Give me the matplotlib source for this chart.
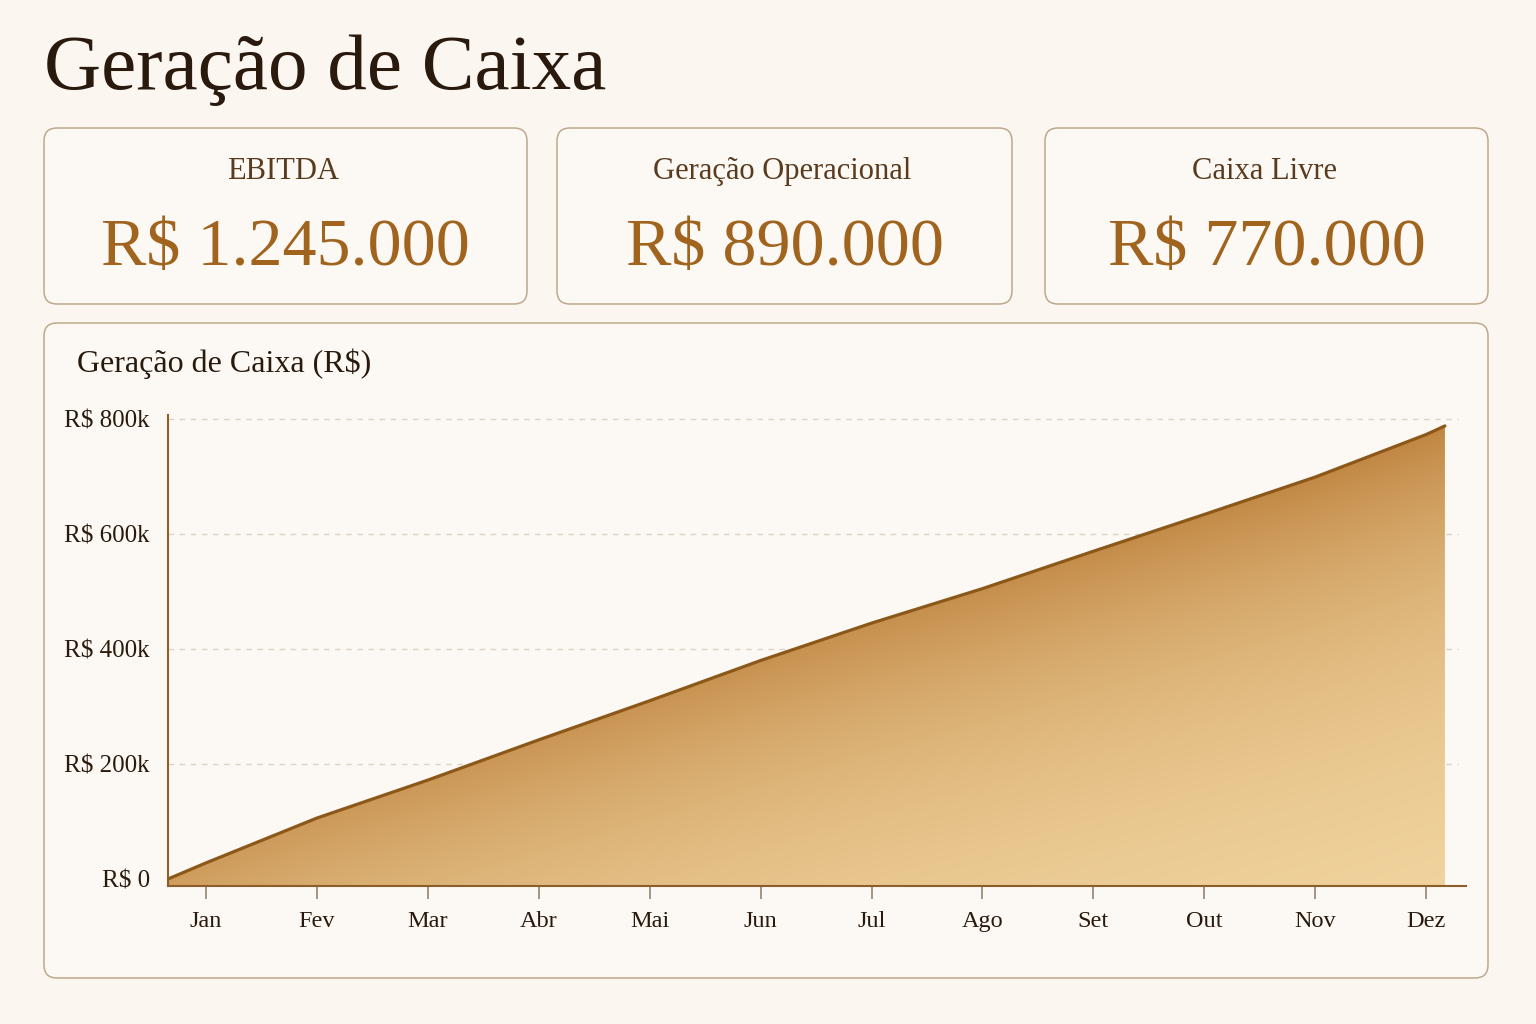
import numpy as np
import matplotlib
matplotlib.use("Agg")
import matplotlib.pyplot as plt
from matplotlib.patches import FancyBboxPatch, Polygon
from matplotlib.colors import to_rgb

# ---------------- data ----------------
months = ["Jan", "Fev", "Mar", "Abr", "Mai", "Jun", "Jul", "Ago", "Set", "Out", "Nov", "Dez"]
cash_generation = [28000, 106000, 172000, 242000, 310000, 380000, 445000, 505000, 570000, 634000, 699000, 773000]
series_start_value = 0
series_end_value = 788000
y_ticks = [0, 200000, 400000, 600000, 800000]
y_tick_labels = ["R$ 0", "R$ 200k", "R$ 400k", "R$ 600k", "R$ 800k"]
kpi_labels = ["EBITDA", "Geração Operacional", "Caixa Livre"]
kpi_values = ["R$ 1.245.000", "R$ 890.000", "R$ 770.000"]
title = "Geração de Caixa"
chart_title = "Geração de Caixa (R$)"

# ---------------- style ----------------
W, H = 1536, 1024
BG = "#fbf7f0"
CARD_BG = "#fcf9f4"
BORDER = "#bfa88a"
DARK = "#2a1a0e"
LABEL = "#5a3b1e"
VALUE = "#a0641f"
LINE = "#8c581a"
SPINE = "#8b5e2a"
GRID = "#ddd3c4"
FILL_DARK = np.array(to_rgb("#c08642"))
FILL_LIGHT = np.array(to_rgb("#f6dca8"))
SERIF = ["Liberation Serif", "DejaVu Serif"]

plt.rcParams["font.family"] = SERIF

fig = plt.figure(figsize=(W / 100, H / 100), dpi=100, facecolor=BG)

# background / layout axes in pixel coordinates
bg = fig.add_axes([0, 0, 1, 1])
bg.set_xlim(0, W)
bg.set_ylim(H, 0)
bg.axis("off")
bg.set_zorder(0)

bg.text(44, 89, title, fontsize=57, color=DARK, ha="left", va="baseline")

cards = [(44, 128, 483, 176), (557, 128, 455, 176), (1045, 128, 443, 176)]
for (x, y, w, h), lab, val in zip(cards, kpi_labels, kpi_values):
    bg.add_patch(FancyBboxPatch((x, y), w, h, boxstyle="round,pad=0,rounding_size=13",
                                facecolor=CARD_BG, edgecolor=BORDER, linewidth=1.1))
    cx = x + w / 2
    bg.text(cx - 2, 179, lab, fontsize=22, color=LABEL, ha="center", va="baseline")
    bg.text(cx, 265, val, fontsize=49, color=VALUE, ha="center", va="baseline")

# chart panel
bg.add_patch(FancyBboxPatch((44, 323), 1444, 655, boxstyle="round,pad=0,rounding_size=13",
                            facecolor=CARD_BG, edgecolor=BORDER, linewidth=1.1))
bg.text(77, 372, chart_title, fontsize=23, color=DARK, ha="left", va="baseline")

# ---------------- chart ----------------
ax_left, ax_right, ax_top, ax_bottom = 168, 1466, 415, 886
ax = fig.add_axes([ax_left / W, 1 - ax_bottom / H, (ax_right - ax_left) / W, (ax_bottom - ax_top) / H])
ax.set_zorder(1)
ax.patch.set_alpha(0)

x_month = np.arange(len(months))
x_lo, x_hi = -0.343, 11.36
x_end = 11.17
y_lo, y_hi = -12200, 807000
ax.set_xlim(x_lo, x_hi)
ax.set_ylim(y_lo, y_hi)

xs = np.concatenate([[x_lo], x_month, [x_end]])
ys = np.concatenate([[series_start_value], cash_generation, [series_end_value]])

# gradient fill clipped to the area under the line (down to the axis)
nx, ny = 600, 400
gx = np.linspace(x_lo, x_end, nx)
gy = np.linspace(y_lo, y_hi, ny)
GX, GY = np.meshgrid(gx, gy)
line_at = np.interp(GX, xs, ys)
dist = np.clip(line_at - GY, 0, None)
s = np.exp(-dist / 420000) * (0.74 + 0.26 * np.clip(GY, 0, None) / 800000)
s = np.clip(s, 0, 1)
img = FILL_LIGHT[None, None, :] * (1 - s[..., None]) + FILL_DARK[None, None, :] * s[..., None]
im = ax.imshow(img, extent=(x_lo, x_end, y_lo, y_hi), origin="lower", aspect="auto",
               interpolation="bilinear", zorder=1)
poly = Polygon(np.column_stack([np.concatenate([xs, [x_end, x_lo]]),
                                np.concatenate([ys, [y_lo, y_lo]])]),
               closed=True, transform=ax.transData, facecolor="none", edgecolor="none")
ax.add_patch(poly)
im.set_clip_path(poly)

ax.plot(xs, ys, color=LINE, linewidth=2.3, zorder=3, solid_capstyle="round")

# grid
for yv in y_ticks[1:]:
    ax.axhline(yv, color=GRID, linewidth=1.0, linestyle=(0, (4, 4)), zorder=0.5,
               xmax=(11.29 - x_lo) / (x_hi - x_lo))

ax.set_yticks(y_ticks)
ax.set_yticklabels(y_tick_labels)
ax.set_xticks(x_month)
ax.set_xticklabels(months)
ax.tick_params(axis="y", length=0, pad=13, labelsize=18, labelcolor=DARK)
ax.tick_params(axis="x", length=9, width=1.1, color="#8a7a68", pad=9, labelsize=17.5, labelcolor=DARK)

for side in ["top", "right"]:
    ax.spines[side].set_visible(False)
for side in ["left", "bottom"]:
    ax.spines[side].set_color(SPINE)
    ax.spines[side].set_linewidth(1.5)
    ax.spines[side].set_zorder(4)

fig.savefig("out.png", dpi=100, facecolor=BG)
